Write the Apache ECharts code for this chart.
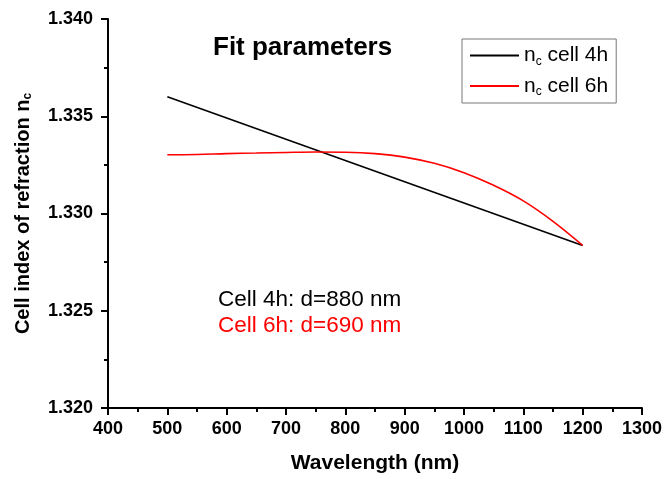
<!DOCTYPE html>
<html>
<head>
<meta charset="utf-8">
<script src="https://cdn.jsdelivr.net/npm/echarts@6/dist/echarts.min.js"></script>
<style>
html,body{margin:0;padding:0;background:#fff;}
#chart{width:665px;height:479px;}
</style>
</head>
<body>
<div id="chart"></div>
<script>
// ---- data ----
var wavelength6h = [500, 550, 600, 650, 700, 750, 800, 850, 900, 950, 1000, 1050, 1100, 1150, 1200];
var nCell6h = [1.33302, 1.33303, 1.33308, 1.33311, 1.33314, 1.33316, 1.33315, 1.33308, 1.33290, 1.33258, 1.33210, 1.33145, 1.33065, 1.32960, 1.32836];
var wavelength4h = [500, 1200];
var nCell4h = [1.33600, 1.32836];
var seriesNames = ['n_c cell 4h', 'n_c cell 6h'];
var annotations = ['Cell 4h: d=880 nm', 'Cell 6h: d=690 nm'];
var titleText = 'Fit parameters';
var xAxisTitle = 'Wavelength (nm)';

var FONT = '"Liberation Sans", Arial, sans-serif';

function pairs(xs, ys) {
  return xs.map(function (x, i) { return [x, ys[i]]; });
}

var subRich = {
  n: { fontFamily: FONT, fontSize: 21, color: '#000' },
  sub: { fontFamily: FONT, fontSize: 12, color: '#000', verticalAlign: 'bottom', padding: [12, 0, 0, 0] },
  t: { fontFamily: FONT, fontSize: 21, color: '#000' }
};

var chart = echarts.init(document.getElementById('chart'), null, { renderer: 'canvas' });
chart.setOption({
  animation: false,
  backgroundColor: '#fff',
  grid: { left: 108, right: 23, top: 19, bottom: 70, containLabel: false },
  legend: {
    orient: 'vertical',
    left: 462,
    top: 39,
    padding: [6, 8, 5, 8],
    itemGap: 8,
    itemWidth: 49,
    itemHeight: 2,
    icon: 'rect',
    borderColor: '#777',
    borderWidth: 1,
    data: seriesNames,
    formatter: function (name) {
      var rest = name.replace('n_c', '');
      return '{n|n}{sub|c}{t|' + rest + '}';
    },
    textStyle: { fontFamily: FONT, fontSize: 21, color: '#000', rich: subRich }
  },
  xAxis: {
    type: 'value',
    min: 400,
    max: 1300,
    interval: 100,
    name: xAxisTitle,
    nameLocation: 'middle',
    nameGap: 45,
    nameTextStyle: { fontFamily: FONT, fontSize: 21, fontWeight: 'bold', color: '#000' },
    axisLine: { show: true, lineStyle: { color: '#000', width: 2 } },
    axisTick: { show: true, inside: false, length: 7, lineStyle: { color: '#000', width: 2 } },
    minorTick: { show: true, splitNumber: 2, length: 4, lineStyle: { color: '#000', width: 2 } },
    axisLabel: {
      margin: 12, fontFamily: FONT, fontSize: 18, fontWeight: 'bold', color: '#000',
      formatter: function (v) { return String(v); }
    },
    splitLine: { show: false }
  },
  yAxis: {
    type: 'value',
    min: 1.320,
    max: 1.340,
    interval: 0.005,
    name: '{a|Cell index of refraction n}{s|c}',
    nameLocation: 'middle',
    nameGap: 74,
    nameRotate: 90,
    nameTextStyle: {
      fontFamily: FONT, fontSize: 20, fontWeight: 'bold', color: '#000',
      rich: {
        a: { fontFamily: FONT, fontSize: 20, fontWeight: 'bold', color: '#000' },
        s: { fontFamily: FONT, fontSize: 12, fontWeight: 'bold', color: '#000', verticalAlign: 'bottom', padding: [10, 0, 0, 0] }
      }
    },
    axisLine: { show: true, lineStyle: { color: '#000', width: 2 } },
    axisTick: { show: true, inside: false, length: 7, lineStyle: { color: '#000', width: 2 } },
    minorTick: { show: true, splitNumber: 2, length: 4, lineStyle: { color: '#000', width: 2 } },
    axisLabel: {
      margin: 15, fontFamily: FONT, fontSize: 18, fontWeight: 'bold', color: '#000',
      formatter: function (v) { return v.toFixed(3); }
    },
    splitLine: { show: false }
  },
  graphic: [
    {
      type: 'text', left: 213, top: 35, silent: true,
      style: { text: titleText, fontFamily: FONT, fontSize: 26, fontWeight: 'bold', fill: '#000' }
    },
    {
      type: 'text', left: 218, top: 288, silent: true,
      style: { text: annotations[0], fontFamily: FONT, fontSize: 22.5, fill: '#000' }
    },
    {
      type: 'text', left: 218, top: 314, silent: true,
      style: { text: annotations[1], fontFamily: FONT, fontSize: 22.5, fill: '#ff0000' }
    }
  ],
  series: [
    {
      name: seriesNames[0],
      type: 'line',
      data: pairs(wavelength4h, nCell4h),
      symbol: 'none',
      lineStyle: { color: '#000', width: 1.6 },
      itemStyle: { color: '#000' }
    },
    {
      name: seriesNames[1],
      type: 'line',
      data: pairs(wavelength6h, nCell6h),
      symbol: 'none',
      smooth: 0.4,
      lineStyle: { color: '#ff0000', width: 1.6 },
      itemStyle: { color: '#ff0000' }
    }
  ]
});
</script>
</body>
</html>
